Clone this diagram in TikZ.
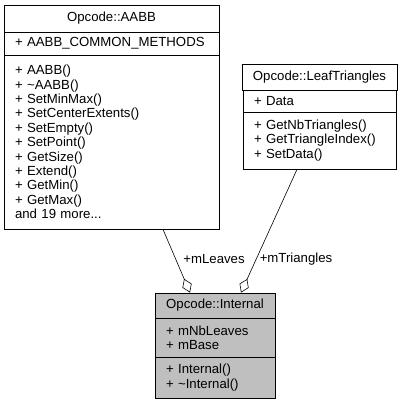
\documentclass[tikz,border=0pt]{standalone}
\usepackage{fontspec}
\setmainfont{Liberation Sans}
\usetikzlibrary{arrows.meta}
\tikzstyle{cell}=[draw, line width=.8pt, inner ysep=0, inner xsep=11pt, font=\fontsize{13.2}{14.4}\selectfont]
\tikzstyle{ttl}=[cell, align=center]
\tikzstyle{memb}=[cell, align=left]
\tikzstyle{aggr}=[line width=.6pt, {Diamond[open, length=15pt, width=10pt]}-]
\tikzstyle{lbl}=[inner sep=0, font=\fontsize{13.2}{14.4}\selectfont]

\begin{document}
\begin{tikzpicture}[x=1pt, y=-1pt]
\useasboundingbox (0,0) rectangle (402,404);
\node at (111.5,18.5)[ttl, minimum width=215pt, minimum height=27pt](a0){Opcode::AABB};
\node at (111.5,43.5)[memb, text width=193pt, minimum height=23pt](a1){+ AABB\_COMMON\_METHODS};
\node at (111.5,142)[memb, text width=193pt, minimum height=174pt](a2){+ AABB()\\+ \textasciitilde AABB()\\+ SetMinMax()\\+ SetCenterExtents()\\+ SetEmpty()\\+ SetPoint()\\+ GetSize()\\+ Extend()\\+ GetMin()\\+ GetMax()\\and 19 more...};
\node at (319.5,77)[ttl, minimum width=153pt, minimum height=26pt](l0){Opcode::LeafTriangles};
\node at (319.5,101)[memb, text width=131pt, minimum height=22pt](l1){+ Data};
\node at (319.5,140.5)[memb, text width=131pt, minimum height=57pt](l2){+ GetNbTriangles()\\+ GetTriangleIndex()\\+ SetData()};
\node at (215,305.5)[ttl, fill=black!25, minimum width=120pt, minimum height=25pt](i0){Opcode::Internal};
\node at (215,337.5)[memb, fill=black!25, text width=98pt, minimum height=39pt](i1){+ mNbLeaves\\+ mBase};
\node at (215,377.5)[memb, fill=black!25, text width=98pt, minimum height=41pt](i2){+ Internal()\\+ \textasciitilde Internal()};
\draw[aggr] ([xshift=-25pt]i0.north)--([xshift=51.5pt]a2.south);
\draw[aggr] ([xshift=26pt]i0.north)--([xshift=-22.5pt]l2.south);
\node at (214,259)[lbl](ml){+mLeaves};
\node at (296,259)[lbl](mt){+mTriangles};
\end{tikzpicture}
\end{document}
